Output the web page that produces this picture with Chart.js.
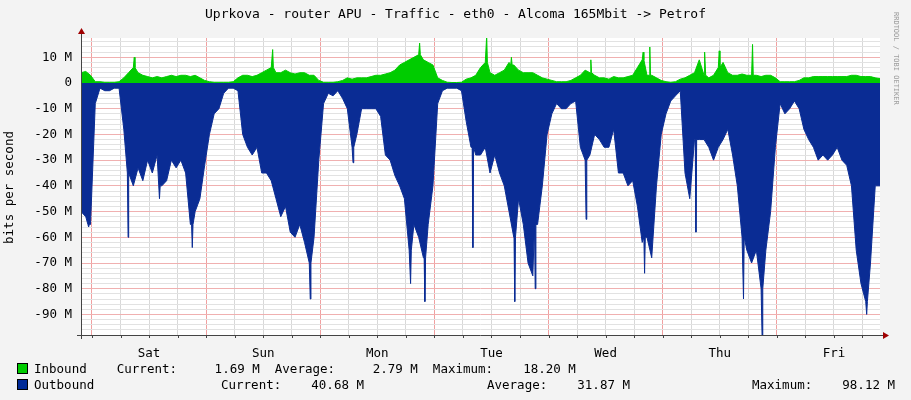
<!DOCTYPE html>
<html>
<head>
<meta charset="utf-8">
<script src="https://cdn.jsdelivr.net/npm/chart.js@4/dist/chart.umd.min.js"></script>
<style>
  html, body { margin: 0; padding: 0; background: #f3f3f3; }
  #wrap { position: relative; width: 911px; height: 400px; box-sizing: border-box; border: 2px solid #cfcfcf; border-top-color: #e0e0e0; border-left-color: #e0e0e0; font-family: "DejaVu Sans Mono", monospace; font-size: 12.5px; color: #000; }
  #wrap canvas { position: absolute; left: -2px; top: -2px; }
  .t { position: absolute; white-space: pre; }
  .box { position: absolute; width: 9px; height: 9px; border: 1px solid #000; }
</style>
</head>
<body>
<div id="wrap">
  <canvas id="c" width="911" height="400"></canvas>
  <div class="t" style="left:0;width:907px;top:4px;text-align:center;font-size:13px;">Uprkova - router APU - Traffic - eth0 - Alcoma 165Mbit -&gt; Petrof</div>
  <div class="t" style="left:-50px;top:178px;transform:rotate(-90deg);">bits per second</div>
  <div class="t" style="left:898px;top:10px;font-size:7px;color:#999;transform:rotate(90deg);transform-origin:0 0;">RRDTOOL / TOBI OETIKER</div>
  <div class="box" style="left:15px;top:361px;background:#00cc00;"></div>
  <div class="t" style="left:32px;top:359px;">Inbound    Current:     1.69 M  Average:     2.79 M  Maximum:    18.20 M</div>
  <div class="box" style="left:15px;top:377px;background:#002a97;"></div>
  <div class="t" style="left:32px;top:375px;">Outbound</div>
  <div class="t" style="left:219px;top:375px;">Current:    40.68 M</div>
  <div class="t" style="left:485px;top:375px;">Average:    31.87 M</div>
  <div class="t" style="left:750px;top:375px;">Maximum:    98.12 M</div>
</div>
<script>
// hours since start of window (Fri ~21:40); first midnight at 2.31 h
const firstMidnight = 2.31;
const dayLabels = ['Sat', 'Sun', 'Mon', 'Tue', 'Wed', 'Thu', 'Fri'];

// outbound traffic, Mbit/s, one value per hour
const outbound = [
  50, 52, 55, 8, 2, 3, 3, 2, 2, 18, 35, 40, 33, 38, 30, 35, 28, 40, 38, 30,
  33, 30, 35, 55, 50, 45, 32, 20, 12, 10, 4, 2, 2, 3, 20, 25, 28, 25, 35, 35,
  38, 45, 52, 48, 58, 60, 55, 62, 70, 60, 30, 8, 4, 5, 3, 6, 10, 25, 20, 10,
  10, 10, 10, 13, 28, 30, 36, 40, 45, 65, 55, 60, 68, 55, 40, 8, 3, 2, 2, 2,
  3, 15, 25, 28, 28, 25, 35, 28, 35, 40, 50, 60, 45, 55, 70, 75, 55, 40, 20, 12,
  8, 10, 10, 8, 7, 25, 30, 28, 20, 22, 25, 25, 18, 35, 35, 40, 38, 48, 62, 60,
  68, 40, 20, 12, 7, 5, 3, 35, 45, 22, 22, 22, 25, 30, 25, 22, 18, 28, 40, 60,
  65, 70, 65, 80, 65, 50, 25, 8, 12, 10, 7, 10, 18, 22, 25, 30, 28, 30, 28, 25,
  30, 32, 40, 65, 78, 85, 70, 40, 40
];
// short outbound peaks [hour, Mbit/s]
const outSpikes = [
  [1.6, 56], [9.9, 60], [16.5, 45], [23.4, 64], [48.2, 84], [57.2, 31], [69.3, 78],
  [72.3, 85], [82.4, 64], [91.2, 85], [95.5, 80], [106.2, 53], [118.5, 74], [129.3, 58],
  [139.3, 84], [143.2, 98], [165.2, 90]
];
// inbound traffic, Mbit/s, one value per hour
const inbound = [
  4, 4.5, 3, 0.5, 0.5, 0.3, 0.3, 0.3, 0.5, 2, 4, 6, 4, 3, 2.5, 2, 2.5, 2, 2.5, 3,
  2.5, 3, 3, 2.5, 3, 2, 1, 0.5, 0.3, 0.3, 0.3, 0.3, 0.5, 2, 3, 3, 2.5, 3, 4, 5,
  6, 4, 4, 5, 4, 3.5, 4, 4, 3, 3, 1, 0.3, 0.3, 0.3, 0.5, 1, 2, 1.5, 2, 2,
  2, 2.5, 3, 3, 3.5, 4, 5, 7, 8, 9, 10, 11, 9, 8, 7, 2, 1, 0.3, 0.2, 0.2,
  0.3, 1.5, 2, 3, 6, 8, 4, 3, 4, 5, 8, 7, 5, 4, 4, 4, 3, 2, 1.5, 1,
  0.5, 0.5, 0.5, 1, 2, 3, 5, 4, 3, 2, 2, 1.5, 2.5, 2, 2, 2.5, 3, 6, 9, 3,
  3, 2, 1, 0.5, 0.3, 0.5, 1.5, 2, 3, 4, 9, 3, 2, 3, 6, 8, 4, 3, 3, 3.5,
  3, 3, 3, 2.5, 3, 3, 2, 0.5, 0.5, 0.5, 0.5, 1, 2, 2, 2.5, 2.5, 2.5, 2.5, 2.5, 2.5,
  2.5, 2.5, 3, 3, 2.5, 2.5, 2.5, 2, 1.7
];
const inSpikes = [
  [11.2, 10], [40.3, 13], [71.2, 15.5], [85.3, 18.2], [90.5, 10], [107.2, 9],
  [118.2, 12], [119.6, 14], [131.2, 12], [134.2, 12.5], [141.2, 15]
];

function series(values, spikes, sign) {
  const pts = values.map((v, i) => ({ x: i, y: sign * v }));
  spikes.forEach(([h, v]) => {
    const base = values[Math.round(h)] ?? 0;
    pts.push({ x: h - 0.15, y: sign * base }, { x: h, y: sign * v }, { x: h + 0.15, y: sign * base });
  });
  return pts.sort((a, b) => a.x - b.x);
}

const xTicks = [];
for (let t = firstMidnight; t <= 168; t += 6) xTicks.push(t);

const axisArrows = {
  id: 'axisArrows',
  afterDraw(chart) {
    const { ctx, chartArea: a } = chart;
    ctx.save();
    ctx.strokeStyle = '#444';
    ctx.lineWidth = 1;
    ctx.beginPath();
    ctx.moveTo(a.left + 0.5, a.top - 6);
    ctx.lineTo(a.left + 0.5, a.bottom + 4);
    ctx.moveTo(a.left - 4, a.bottom + 0.5);
    ctx.lineTo(a.right + 4, a.bottom + 0.5);
    xTicks.forEach((t) => {
      const px = Math.round(chart.scales.x.getPixelForValue(t)) + 0.5;
      ctx.moveTo(px, a.bottom);
      ctx.lineTo(px, a.bottom + 3);
    });
    ctx.stroke();
    ctx.fillStyle = '#a00000';
    ctx.beginPath();
    ctx.moveTo(a.left - 3, a.top - 4); ctx.lineTo(a.left + 4, a.top - 4); ctx.lineTo(a.left + 0.5, a.top - 10);
    ctx.fill();
    ctx.beginPath();
    ctx.moveTo(a.right + 3, a.bottom - 3); ctx.lineTo(a.right + 3, a.bottom + 4); ctx.lineTo(a.right + 9, a.bottom + 0.5);
    ctx.fill();
    ctx.restore();
  },
};

const bgPlugin = {
  id: 'bg',
  beforeDraw(chart) {
    const { ctx, chartArea: a } = chart;
    ctx.save();
    ctx.fillStyle = '#f3f3f3';
    ctx.fillRect(0, 0, chart.width, chart.height);
    ctx.fillStyle = '#ffffff';
    ctx.fillRect(a.left, a.top, a.right - a.left, a.bottom - a.top);
    ctx.restore();
  },
};

const isDay = (t) => Math.abs(((t - firstMidnight) % 24 + 24) % 24) < 0.01;

new Chart(document.getElementById('c'), {
  type: 'line',
  data: {
    datasets: [
      {
        label: 'Inbound',
        data: series(inbound, inSpikes, 1),
        backgroundColor: '#00cc00',
        borderColor: '#00cc00',
        borderWidth: 1,
        fill: 'origin',
        pointRadius: 0,
      },
      {
        label: 'Outbound',
        data: series(outbound, outSpikes, -1),
        backgroundColor: '#0a2c94',
        borderColor: '#0a2c94',
        borderWidth: 1,
        fill: 'origin',
        pointRadius: 0,
      },
    ],
  },
  options: {
    responsive: false,
    animation: false,
    layout: { padding: { left: 0, top: 38, right: 31, bottom: 43 } },
    plugins: { legend: { display: false }, tooltip: { enabled: false } },
    scales: {
      x: {
        type: 'linear',
        min: 0,
        max: 168,
        afterBuildTicks: (s) => { s.ticks = xTicks.map((v) => ({ value: v })); },
        afterFit: (s) => { s.height = 0; },
        border: { display: false },
        grid: {
          color: (c) => (isDay(c.tick.value) ? '#f0a0a0' : '#d8d8d8'),
          lineWidth: 1,
          drawTicks: false,
        },
        ticks: { display: false },
      },
      x2: {
        type: 'linear',
        position: 'bottom',
        min: 0,
        max: 168,
        afterBuildTicks: (s) => { s.ticks = dayLabels.map((d, i) => ({ value: firstMidnight + 12 + 24 * i })); },
        afterFit: (s) => { s.height = 22; },
        border: { display: false },
        grid: { display: false },
        ticks: {
          autoSkip: false,
          maxRotation: 0,
          padding: 3,
          color: '#000',
          font: { family: 'DejaVu Sans Mono', size: 12.5 },
          callback: (v, i) => dayLabels[i],
        },
      },
      y: {
        min: -98,
        max: 17.5,
        afterBuildTicks: (s) => {
          const t = [];
          for (let v = -98; v <= 16; v += 2) t.push({ value: v });
          s.ticks = t;
        },
        afterFit: (s) => { s.width = 81; },
        border: { display: false },
        grid: {
          color: (c) => (c.tick.value % 10 === 0 ? '#f0b0b0' : '#e2e2e2'),
          drawTicks: false,
        },
        ticks: {
          autoSkip: false,
          padding: 9,
          color: '#000',
          font: { family: 'DejaVu Sans Mono', size: 12.5 },
          callback: (v) => (v % 10 === 0 ? (v === 0 ? '0' : v + ' M') : ''),
        },
      },
    },
  },
  plugins: [bgPlugin, axisArrows],
});
</script>
</body>
</html>
